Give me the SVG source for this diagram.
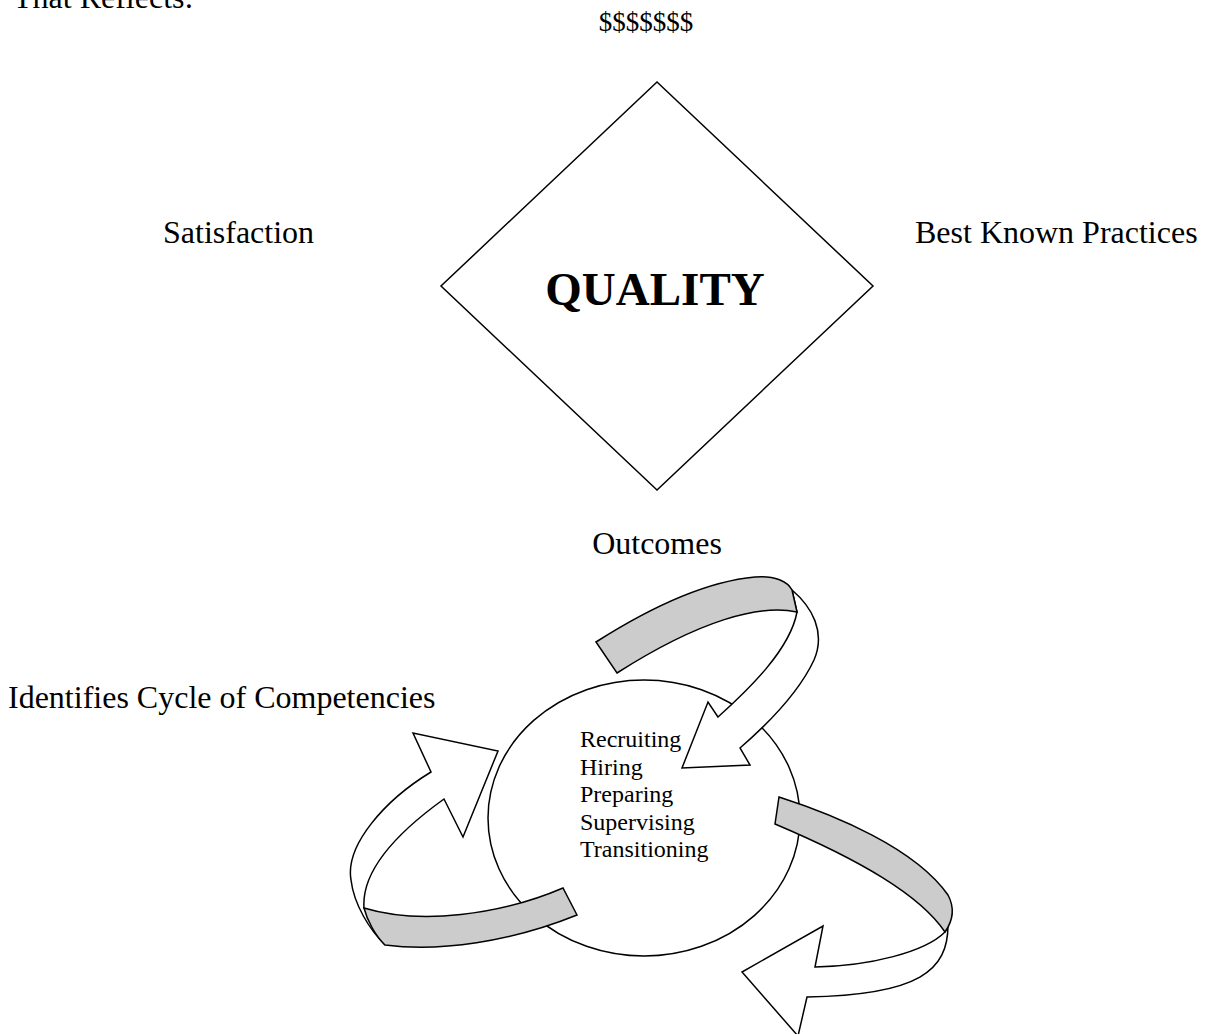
<svg xmlns="http://www.w3.org/2000/svg" width="1210" height="1034" viewBox="0 0 1210 1034">
<style>
text{font-family:"Liberation Serif","Times New Roman",serif;fill:#000}
.lbl{font-size:32px}
.small{font-size:24px}
.shape{fill:#fff;stroke:#000;stroke-width:1.5;stroke-linejoin:miter}
.band{fill:#cccccc;stroke:#000;stroke-width:1.5}
</style>
<rect width="1210" height="1034" fill="#fff"/>
<g id="header"><text class="lbl" x="13" y="8">That Reflects:</text></g>
<g id="money"><text x="646" y="31" text-anchor="middle" font-size="27">$$$$$$$</text></g>
<g id="satisfaction"><text class="lbl" x="163" y="243">Satisfaction</text></g>
<g id="practices"><text class="lbl" x="915" y="243">Best Known Practices</text></g>
<g id="quality">
<polygon class="shape" points="657,82 873,286 657,490 441,286"/>
<text x="655" y="305" text-anchor="middle" font-size="47" font-weight="bold">QUALITY</text>
</g>
<g id="outcomes"><text class="lbl" x="657" y="554" text-anchor="middle">Outcomes</text></g>
<g id="cycle-label"><text class="lbl" x="8" y="708">Identifies Cycle of Competencies</text></g>
<g id="competencies">
<ellipse class="shape" cx="644" cy="818" rx="156" ry="138"/>
<text class="small" x="580" y="747">Recruiting</text>
<text class="small" x="580" y="774.5">Hiring</text>
<text class="small" x="580" y="802">Preparing</text>
<text class="small" x="580" y="829.5">Supervising</text>
<text class="small" x="580" y="857">Transitioning</text>
</g>
<g id="connectors">
<g id="arrow-top">
<path class="shape" d="M792,590 C812,607 826,632 814,660 C800,690 770,722 740,748 L750,765 L682,768 L708,702 L718,717 C748,690 790,650 797,612 Z"/>
<path class="band" d="M596,642 C640,614 700,582 755,577 C775,575 788,582 792,590 L797,612 C760,604 700,620 617,673 Z"/>
</g>
<g id="arrow-left">
<path class="shape" d="M364,908 C362,880 380,845 444,799 L463,837 L498,751 L413,733 L431,772 C385,800 345,845 351,880 C354,905 370,930 385,945 Z"/>
<path class="band" d="M364,908 C420,925 500,915 563,888 L577,915 C510,942 440,952 385,945 C375,935 367,920 364,908 Z"/>
</g>
<g id="arrow-right">
<path class="shape" d="M948,925 C948,970 920,995 807,997 L798,1036 L742,972 L823,926 L815,967 C870,966 925,952 945,932 Z"/>
<path class="band" d="M779,797 C835,815 915,848 948,895 C956,910 952,922 945,932 C920,895 860,860 775,824 Z"/>
</g>
</g>
</svg>
